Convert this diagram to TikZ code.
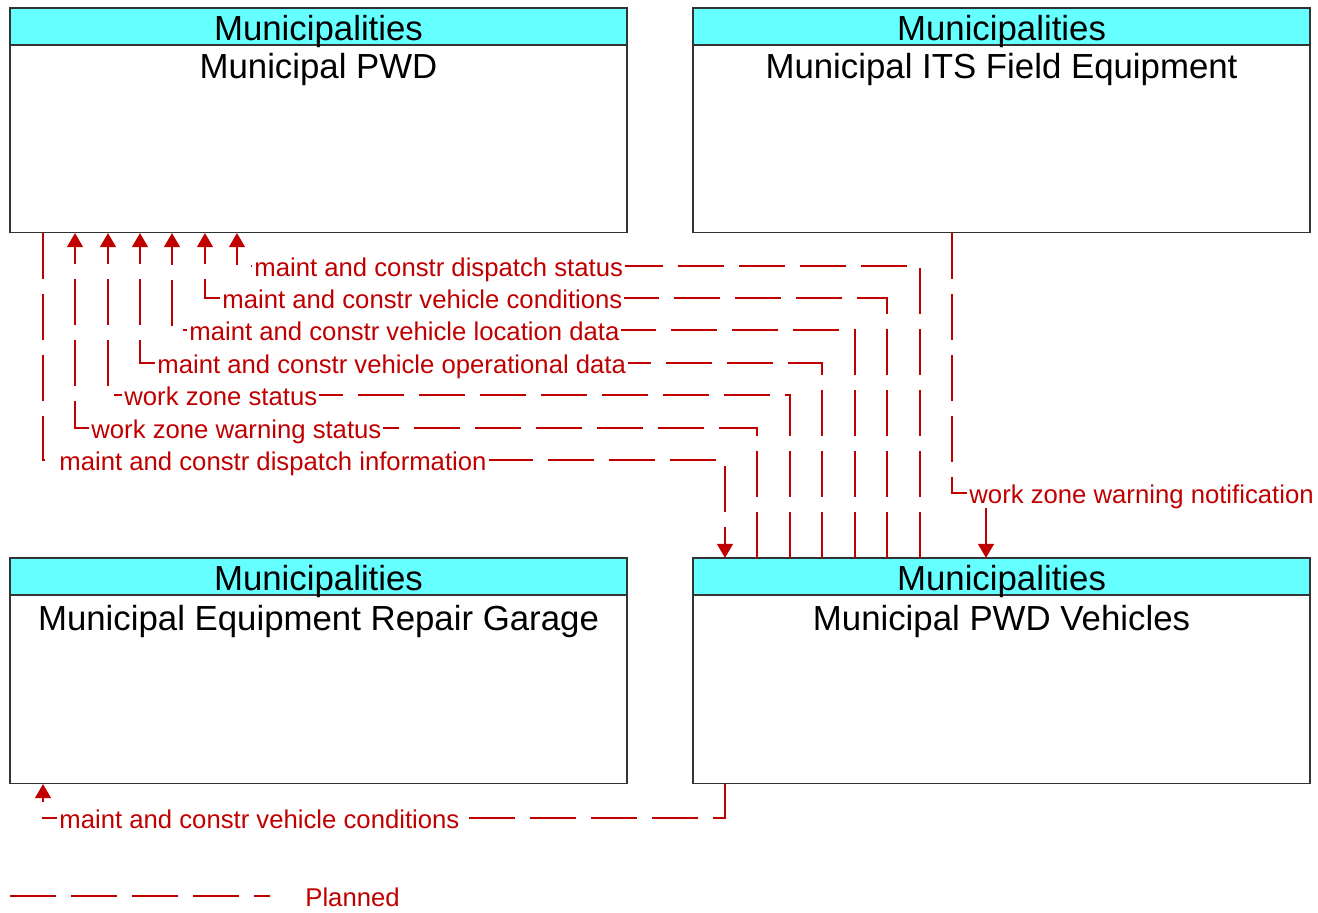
\documentclass[tikz,border=0pt]{standalone}
\usepackage{fontspec}
\setmainfont{Liberation Sans}
\usetikzlibrary{positioning, calc, arrows.meta}
\definecolor{flowred}{RGB}{192,0,0}
\definecolor{hdrcyan}{RGB}{102,255,255}

\begin{document}
\begin{tikzpicture}[x=0.5pt, y=-0.5pt]
	 \tikzstyle{subsys}=[rectangle, draw=black!80, line width=0.6pt, minimum width=308.5pt, minimum height=112.5pt, inner sep=0pt]
	 \tikzstyle{header}=[rectangle, draw=black!80, line width=0.6pt, fill=hdrcyan, minimum width=308.5pt, minimum height=18.5pt, inner sep=0pt, text height=14.5pt, text depth=0pt, font=\fontsize{17.4}{20}\selectfont]
	 \tikzstyle{title}=[anchor=base, inner sep=0pt, font=\fontsize{17.4}{20}\selectfont]
	 \tikzstyle{flow}=[draw=flowred, line width=0.6pt, dash pattern=on 23pt off 7.5pt]
	 \tikzstyle{flowtip}=[-{Triangle[width=8pt,length=7pt]}]
	 \tikzstyle{lbl}=[anchor=west, fill=white, text=flowred, inner sep=1pt, text height=12pt, text depth=1pt, font=\fontsize{12.85}{15}\selectfont]
	 \useasboundingbox (0,0) rectangle (1318,913);
	 \node[subsys] (pwd) at (318.5,120) {};
	 \node[header] (pwdh) at (318.5,26.5) {Municipalities};
	 \node[title] (pwdn) at (318.5,79) {Municipal PWD};
	 \node[subsys] (its) at (1001.5,120) {};
	 \node[header] (itsh) at (1001.5,26.5) {Municipalities};
	 \node[title] (itsn) at (1001.5,79) {Municipal ITS Field Equipment};
	 \node[subsys] (gar) at (318.5,671) {};
	 \node[header] (garh) at (318.5,576.5) {Municipalities};
	 \node[title] (garn) at (318.5,631) {Municipal Equipment Repair Garage};
	 \node[subsys] (veh) at (1001.5,671) {};
	 \node[header] (vehh) at (1001.5,576.5) {Municipalities};
	 \node[title] (vehn) at (1001.5,631) {Municipal PWD Vehicles};
	 \coordinate (a1) at (237,266); \coordinate (b1) at (920,266);
	 \coordinate (a2) at (205,298); \coordinate (b2) at (887,298);
	 \coordinate (a3) at (172,330); \coordinate (b3) at (855,330);
	 \coordinate (a4) at (140,363); \coordinate (b4) at (822,363);
	 \coordinate (a5) at (108,395); \coordinate (b5) at (790,395);
	 \coordinate (a6) at (75,428); \coordinate (b6) at (757,428);
	 \coordinate (a7) at (43,460); \coordinate (b7) at (725,460);
	 \coordinate (a8) at (952,493); \coordinate (b8) at (986,493);
	 \coordinate (a9) at (43,818); \coordinate (b9) at (725,818);
	 \coordinate (lg1) at (10,896); \coordinate (lg2) at (270,896);
	 \draw[flow, flowtip] (veh.north -| b1) -- (b1) -- (a1) -- (pwd.south -| a1);
	 \draw[flow, flowtip] (veh.north -| b2) -- (b2) -- (a2) -- (pwd.south -| a2);
	 \draw[flow, flowtip] (veh.north -| b3) -- (b3) -- (a3) -- (pwd.south -| a3);
	 \draw[flow, flowtip] (veh.north -| b4) -- (b4) -- (a4) -- (pwd.south -| a4);
	 \draw[flow, flowtip] (veh.north -| b5) -- (b5) -- (a5) -- (pwd.south -| a5);
	 \draw[flow, flowtip] (veh.north -| b6) -- (b6) -- (a6) -- (pwd.south -| a6);
	 \draw[flow, flowtip] (pwd.south -| a7) -- (a7) -- (b7) -- (veh.north -| b7);
	 \draw[flow, flowtip] (its.south -| a8) -- (a8) -- (b8) -- (veh.north -| b8);
	 \draw[flow, flowtip] (veh.south -| b9) -- (b9) -- (a9) -- (gar.south -| a9);
	 \draw[flow] (lg1) -- (lg2);
	 \node[lbl] (l1) at (252,266) {maint and constr dispatch status};
	 \node[lbl] (l2) at (220,298) {maint and constr vehicle conditions};
	 \node[lbl] (l3) at (187,330) {maint and constr vehicle location data};
	 \node[lbl] (l4) at (155,363) {maint and constr vehicle operational data};
	 \node[lbl] (l5) at (122,395) {work zone status};
	 \node[lbl] (l6) at (89,428) {work zone warning status};
	 \node[lbl] (l7) at (57,460) {maint and constr dispatch information};
	 \node[lbl] (l8) at (967,493) {work zone warning notification};
	 \node[lbl] (l9) at (57,818) {maint and constr vehicle conditions};
	 \node[lbl, fill=none] (plan) at (303,896) {Planned};
 \end{tikzpicture}
\end{document}
